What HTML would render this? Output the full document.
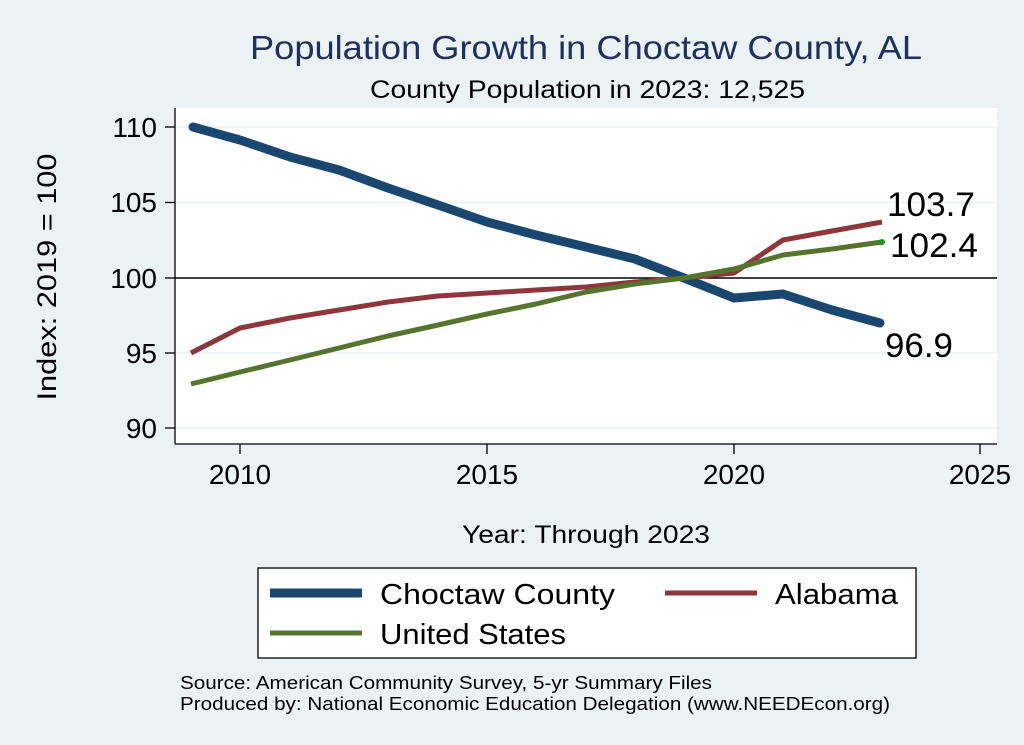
<!DOCTYPE html>
<html><head><meta charset="utf-8"><style>
html,body{margin:0;padding:0;background:#eaf2f3;}
svg{display:block;font-family:"Liberation Sans",Arial,sans-serif;}
</style></head><body>
<svg width="1024" height="745" viewBox="0 0 1024 745" xmlns="http://www.w3.org/2000/svg">
<rect width="1024" height="745" fill="#eaf2f3"/>
<text x="250" y="59" font-size="33" fill="#1e3060" textLength="672" lengthAdjust="spacingAndGlyphs">Population Growth in Choctaw County, AL</text>
<text x="370" y="98" font-size="25" fill="#000" textLength="435" lengthAdjust="spacingAndGlyphs">County Population in 2023: 12,525</text>
<rect x="175" y="108" width="822" height="336" fill="#fff"/>
<g stroke="#eaf2f3" stroke-width="1.5">
<line x1="175" y1="127" x2="997" y2="127"/><line x1="175" y1="202.5" x2="997" y2="202.5"/>
<line x1="175" y1="353" x2="997" y2="353"/><line x1="175" y1="428" x2="997" y2="428"/>
</g>
<line x1="175" y1="278" x2="997" y2="278" stroke="#000" stroke-width="1.5"/>
<g stroke="#000" stroke-width="1.3">
<line x1="175" y1="108" x2="175" y2="444"/><line x1="175" y1="444" x2="997" y2="444"/>
<line x1="165" y1="127" x2="175" y2="127"/><line x1="165" y1="202.5" x2="175" y2="202.5"/>
<line x1="165" y1="278" x2="175" y2="278"/><line x1="165" y1="353" x2="175" y2="353"/>
<line x1="165" y1="428" x2="175" y2="428"/>
<line x1="240" y1="444" x2="240" y2="454"/><line x1="487" y1="444" x2="487" y2="454"/>
<line x1="734" y1="444" x2="734" y2="454"/><line x1="980" y1="444" x2="980" y2="454"/>
</g>
<g font-size="28" text-anchor="end" fill="#000">
<text x="157" y="137">110</text><text x="157" y="212">105</text><text x="157" y="288">100</text>
<text x="157" y="363">95</text><text x="157" y="438">90</text>
</g>
<g font-size="28" text-anchor="middle" fill="#000">
<text x="240" y="484">2010</text><text x="487" y="484">2015</text><text x="734" y="484">2020</text><text x="980" y="484">2025</text>
</g>
<text transform="translate(56,277) rotate(-90)" text-anchor="middle" font-size="27" textLength="247" lengthAdjust="spacingAndGlyphs">Index: 2019 = 100</text>
<text x="462" y="543" font-size="25" textLength="248" lengthAdjust="spacingAndGlyphs">Year: Through 2023</text>
<polyline fill="none" stroke="#1a476f" stroke-width="9" stroke-linejoin="round" stroke-linecap="round" points="193,127 240,140 290,157 339,170 388,188 438,205 487,222 536,235 586,247 635,259 684,278 734,298 783,294 832,310 880,323"/>
<polyline fill="none" stroke="#90353b" stroke-width="5" stroke-linejoin="round" points="191,353 240,328 290,318 339,310 388,302 438,296 487,293 536,290 586,287 635,282 684,278 734,273 783,240 832,231 882,222"/>
<polyline fill="none" stroke="#55752f" stroke-width="5" stroke-linejoin="round" points="191,384 240,372 290,360 339,348 388,336 438,325 487,314 536,304 586,292 635,284 684,278 734,269 783,255 832,249 882,242"/>
<circle cx="882" cy="242" r="3" fill="#1a9a1a"/>
<g font-size="34" fill="#000">
<text x="887" y="216" textLength="88" lengthAdjust="spacingAndGlyphs">103.7</text>
<text x="890" y="257" textLength="88" lengthAdjust="spacingAndGlyphs">102.4</text>
<text x="885" y="357" textLength="68" lengthAdjust="spacingAndGlyphs">96.9</text>
</g>
<rect x="258" y="568" width="658" height="90" fill="#fff" stroke="#000" stroke-width="1.3"/>
<line x1="270" y1="593" x2="362" y2="593" stroke="#1a476f" stroke-width="9"/>
<text x="380" y="604" font-size="29" textLength="235" lengthAdjust="spacingAndGlyphs">Choctaw  County</text>
<line x1="665" y1="593" x2="757" y2="593" stroke="#90353b" stroke-width="5"/>
<text x="775" y="604" font-size="29" textLength="123" lengthAdjust="spacingAndGlyphs">Alabama</text>
<line x1="270" y1="633" x2="362" y2="633" stroke="#55752f" stroke-width="5"/>
<text x="380" y="644" font-size="29" textLength="186" lengthAdjust="spacingAndGlyphs">United States</text>
<text x="180" y="689" font-size="18" textLength="532" lengthAdjust="spacingAndGlyphs">Source: American Community Survey, 5-yr Summary Files</text>
<text x="180" y="710" font-size="18" textLength="710" lengthAdjust="spacingAndGlyphs">Produced by: National Economic Education Delegation (www.NEEDEcon.org)</text>
</svg>
</body></html>
